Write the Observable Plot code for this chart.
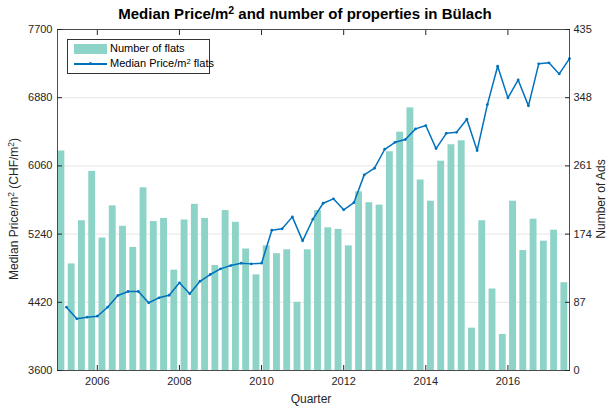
<!DOCTYPE html>
<html><head><meta charset="utf-8">
<script src="https://cdn.jsdelivr.net/npm/d3@7"></script>
<script src="https://cdn.jsdelivr.net/npm/@observablehq/plot@0.6"></script>
<style>
body{margin:0;background:#fff;font-family:"Liberation Sans",Arial,sans-serif;color:#262626;}
#wrap{position:relative;width:611px;height:409px;overflow:hidden;}
#chart{position:absolute;left:0;top:0;}
sup{font-size:0.7em;vertical-align:0.45em;line-height:0;}
#title{position:absolute;top:5px;left:0;width:610px;text-align:center;font-weight:bold;font-size:15px;line-height:17px;color:#000;}
.lab{position:absolute;white-space:nowrap;font-size:12px;transform:translate(-50%,-50%);color:#262626;}
.rot{transform:translate(-50%,-50%) rotate(-90deg);}
#legend{position:absolute;left:67px;top:39px;width:141px;height:33px;border:1px solid #333;background:#fff;font-size:11px;color:#000;white-space:nowrap;}
#legend .sw{position:absolute;left:6px;top:4px;width:33px;height:10px;background:#8dd3c7;}
#legend .ln{position:absolute;left:6px;top:23px;width:33px;height:1.5px;background:#0072bd;}
#legend .dt{position:absolute;left:21px;top:22px;width:3px;height:3px;border-radius:50%;background:#0072bd;}
#legend .t1{position:absolute;left:42px;top:2px;}
#legend .t2{position:absolute;left:42px;top:17px;}
</style></head><body>
<div id="wrap">
<div id="chart"></div>
<div id="title">Median Price/m<sup>2</sup> and number of properties in Bülach</div>
<div class="lab rot" style="left:14px;top:209px;">Median Price/m<sup>2</sup> (CHF/m<sup>2</sup>)</div>
<div class="lab rot" style="left:601px;top:199px;">Number of Ads</div>
<div class="lab" style="left:311px;top:399px;">Quarter</div>
<div id="legend"><div class="sw"></div><div class="t1">Number of flats</div><div class="ln"></div><div class="dt"></div><div class="t2">Median Price/m<sup>2</sup> flats</div></div>
</div>
<script>
const quarters = [
"2005-Q1","2005-Q2","2005-Q3","2005-Q4","2006-Q1","2006-Q2","2006-Q3","2006-Q4",
"2007-Q1","2007-Q2","2007-Q3","2007-Q4","2008-Q1","2008-Q2","2008-Q3","2008-Q4",
"2009-Q1","2009-Q2","2009-Q3","2009-Q4","2010-Q1","2010-Q2","2010-Q3","2010-Q4",
"2011-Q1","2011-Q2","2011-Q3","2011-Q4","2012-Q1","2012-Q2","2012-Q3","2012-Q4",
"2013-Q1","2013-Q2","2013-Q3","2013-Q4","2014-Q1","2014-Q2","2014-Q3","2014-Q4",
"2015-Q1","2015-Q2","2015-Q3","2015-Q4","2016-Q1","2016-Q2","2016-Q3","2016-Q4",
"2017-Q1","2017-Q2"];
const numberOfFlats = [280,136,191,254,169,210,184,157,233,190,194,128,192,212,194,134,204,189,155,122,
159,149,154,87,154,204,182,180,159,228,214,211,279,304,335,243,216,267,288,293,
54,191,104,46,216,153,193,165,179,112];
const medianPrice = [4361,4221,4241,4253,4361,4502,4550,4550,4414,4474,4505,4654,4522,4673,4754,4822,4862,4890,4882,4890,
5286,5303,5447,5159,5419,5611,5664,5532,5619,5952,6032,6260,6344,6377,6505,6545,6268,6452,6464,6621,
6244,6797,7258,6878,7094,6782,7287,7299,7166,7350];
const priceTicks = [3600,4420,5240,6060,6880,7700];
const adsTicks = [0,87,174,261,348,435];
const yearTicks = [2006,2008,2010,2012,2014,2016];

const pMin = priceTicks[0], pMax = priceTicks[priceTicks.length-1];
const aMax = adsTicks[adsTicks.length-1];
const toPrice = a => pMin + a * (pMax - pMin) / aMax;

const rows = quarters.map((s,i)=>({year:+s.slice(0,4), q:+s.slice(6), ads:numberOfFlats[i], price:medianPrice[i]}));
const blue = "#0072bd";
const chart = Plot.plot({
  width:611, height:409, marginTop:29, marginBottom:39, marginLeft:57, marginRight:42,
  style:{fontFamily:"'Liberation Sans', Arial, sans-serif", fontSize:"11px", color:"#262626", background:"transparent"},
  x:{domain:[2005.03,2017.5]},
  y:{domain:[pMin,pMax]},
  marks:[
    Plot.gridY(priceTicks,{stroke:"#000", strokeOpacity:0.1}),
    Plot.rectY(rows,{x1:d=>d.year+(d.q-1)/4, x2:d=>d.year+d.q/4, y1:pMin, y2:d=>toPrice(d.ads), fill:"#8dd3c7", insetLeft:1.7, insetRight:1.7}),
    Plot.line(rows,{x:d=>d.year+d.q/4, y:"price", stroke:blue, strokeWidth:1.5}),
    Plot.dot(rows,{x:d=>d.year+d.q/4, y:"price", r:1.4, fill:blue}),
    Plot.frame({stroke:"#262626", strokeWidth:0.8}),
    Plot.axisX(yearTicks,{anchor:"bottom", tickSize:-5, tickPadding:12, tickFormat:d=>String(d), label:null}),
    Plot.axisX(yearTicks,{anchor:"top", tickSize:-5, tickFormat:()=>"", label:null}),
    Plot.axisY(priceTicks,{anchor:"left", tickSize:-5, tickPadding:10, tickFormat:d=>String(d), label:null}),
    Plot.axisY(adsTicks.map(toPrice),{anchor:"right", tickSize:-5, tickPadding:9, tickFormat:(d,i)=>String(adsTicks[i]), label:null})
  ]
});
document.getElementById("chart").appendChild(chart);
</script>
</body></html>
